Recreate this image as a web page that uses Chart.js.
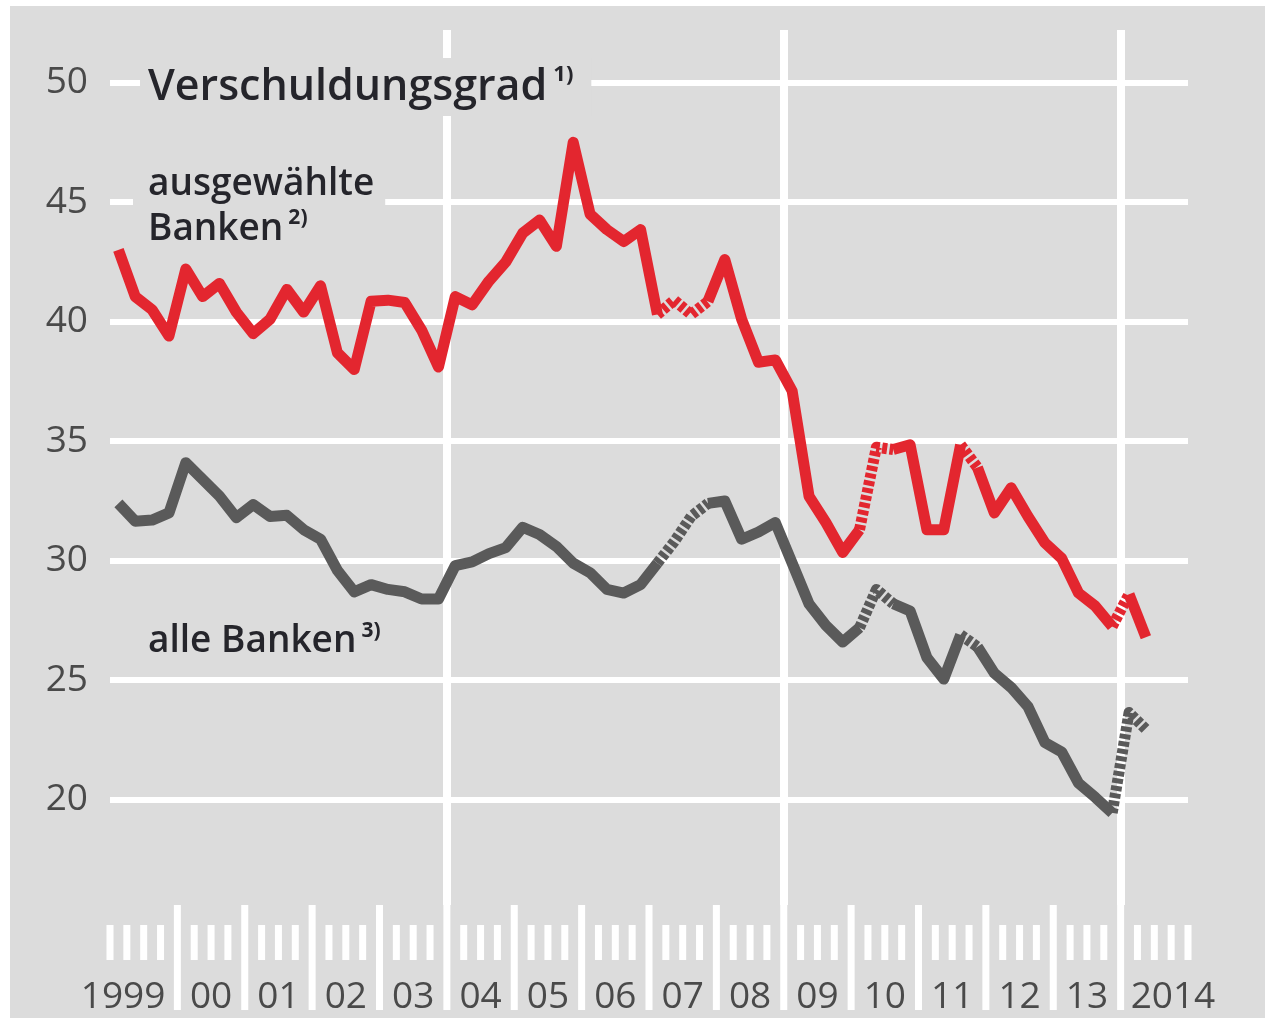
<!DOCTYPE html>
<html>
<head>
<meta charset="utf-8">
<script src="https://cdn.jsdelivr.net/npm/chart.js@4.4.1/dist/chart.umd.min.js"></script>
<style>
  html, body { margin: 0; padding: 0; background: #fff; overflow: hidden; }
  #box { position: relative; width: 1265px; height: 1018px; }
</style>
</head>
<body>
<div id="box"><canvas id="c"></canvas></div>
<script>
/* --- data : quarterly, 1999 Q1 .. 2014 Q2 --- */
const nQuarters  = 64;   // 1999 Q1 .. 2014 Q4 on the axis
const yearLabels = ['1999','00','01','02','03','04','05','06','07','08','09','10','11','12','13','2014'];
const yTicks     = [20, 25, 30, 35, 40, 45, 50];
const gridYears  = [20, 40, 60];   // quarter index of 2004, 2009, 2014

const ausgewaehlte = [
  43.0, 41.05, 40.5, 39.4, 42.2, 41.05, 41.6, 40.4,
  39.5, 40.1, 41.35, 40.4, 41.5, 38.7, 38.0, 40.85,
  40.9, 40.8, 39.65, 38.1, 41.05, 40.7, 41.7, 42.5,
  43.7, 44.25, 43.15, 47.5, 44.5, 43.85, 43.35, 43.85,
  40.3, 40.9, 40.3, 40.85, 42.6, 40.1, 38.3, 38.4,
  37.1, 32.7, 31.6, 30.35, 31.3, 34.75, 34.65, 34.85,
  31.3, 31.3, 34.85, 33.9, 32.0, 33.05, 31.85, 30.75,
  30.1, 28.65, 28.1, 27.25, 28.6, 26.8
];
const alleBanken = [
  32.4, 31.65, 31.7, 32.0, 34.1, 33.4, 32.7, 31.8,
  32.35, 31.85, 31.9, 31.3, 30.9, 29.6, 28.7, 29.0,
  28.8, 28.7, 28.4, 28.4, 29.8, 29.95, 30.3, 30.55,
  31.4, 31.1, 30.6, 29.9, 29.5, 28.8, 28.65, 29.0,
  29.9, 30.8, 31.85, 32.4, 32.5, 30.9, 31.2, 31.6,
  29.9, 28.2, 27.3, 26.6, 27.2, 28.8, 28.2, 27.9,
  25.95, 25.05, 26.9, 26.4, 25.3, 24.7, 23.9, 22.4,
  22.0, 20.7, 20.1, 19.45, 23.65, 22.95
];
// segments (start index) drawn hatched / broken
const redBroken  = [32, 33, 34, 44, 45, 50, 59];
const grayBroken = [32, 33, 34, 44, 45, 50, 59, 60];

/* --- look --- */
const BG    = '#dcdcdc';
const RED   = '#e3262f';
const GRAY  = '#5a5a5a';
const TXT   = '#25252b';
const TICK  = '#4a4a4a';
const FONT  = '"Open Sans", "Noto Sans", sans-serif';

const toPts = arr => arr.map((v, i) => ({ x: i + 0.5, y: v }));
const dashed = list => ({ borderDash: ctx => list.includes(ctx.p0DataIndex) ? [5, 2.5] : undefined });

/* --- background, labels, tick marks --- */
const decor = {
  id: 'decor',
  beforeDraw(chart) {
    const c = chart.ctx;
    c.save();
    c.fillStyle = '#fff';
    c.fillRect(0, 0, chart.width, chart.height);
    c.fillStyle = BG;
    c.fillRect(10, 6, chart.width - 10, chart.height - 6);
    c.restore();
  },
  beforeDatasetsDraw(chart) {
    const c = chart.ctx;
    c.save();
    c.textBaseline = 'alphabetic';
    c.textAlign = 'left';

    // title
    c.font = `600 43px ${FONT}`;
    const wT = c.measureText('Verschuldungsgrad').width;
    c.fillStyle = BG;
    c.fillRect(140, 58, wT + 52, 58);
    c.fillStyle = TXT;
    c.fillText('Verschuldungsgrad', 148, 100);
    c.font = `700 22px ${FONT}`;
    c.fillText('1)', 148 + wT + 6, 81);

    // ausgewählte Banken
    c.font = `600 37px ${FONT}`;
    const wA = c.measureText('ausgewählte').width;
    const wB = c.measureText('Banken').width;
    c.fillStyle = BG;
    c.fillRect(133, 158, wA + 26, 90);
    c.fillStyle = TXT;
    c.fillText('ausgewählte', 148, 195);
    c.fillText('Banken', 148, 240);
    c.font = `700 21px ${FONT}`;
    c.fillText('2)', 148 + wB + 5, 224);

    // alle Banken
    c.font = `600 37px ${FONT}`;
    const wC = c.measureText('alle Banken').width;
    c.fillText('alle Banken', 148, 652);
    c.font = `700 21px ${FONT}`;
    c.fillText('3)', 148 + wC + 5, 637);
    c.restore();
  },
  afterDraw(chart) {
    const c = chart.ctx, xs = chart.scales.x;
    c.save();
    c.fillStyle = '#fff';
    for (let k = 0; k <= nQuarters; k++) {
      const x = xs.getPixelForValue(k);
      const tall = k % 4 === 0 && k > 0 && k < nQuarters;
      if (tall) c.fillRect(x - 3.5, 905, 7, 105);
      else      c.fillRect(x - 3.5, 925, 7, 35);
    }
    c.fillStyle = TICK;
    c.font = `400 37px ${FONT}`;
    c.textBaseline = 'alphabetic';
    yearLabels.forEach((lab, j) => {
      if (j === 0) {
        c.textAlign = 'right';
        c.fillText(lab, xs.getPixelForValue(4) - 12, 1008);
      } else if (j === yearLabels.length - 1) {
        c.textAlign = 'left';
        c.fillText(lab, xs.getPixelForValue(4 * j) + 10, 1008);
      } else {
        c.textAlign = 'center';
        c.fillText(lab, xs.getPixelForValue(4 * j + 2), 1008);
      }
    });
    c.restore();
  }
};

new Chart(document.getElementById('c'), {
  type: 'line',
  data: {
    datasets: [
      { label: 'ausgewählte Banken', data: toPts(ausgewaehlte), borderColor: RED,
        borderWidth: 11, segment: dashed(redBroken) },
      { label: 'alle Banken', data: toPts(alleBanken), borderColor: GRAY,
        borderWidth: 11, segment: dashed(grayBroken) }
    ]
  },
  options: {
    responsive: true,
    maintainAspectRatio: false,
    animation: false,
    layout: { padding: { top: 30, right: 77, left: 0, bottom: 0 } },
    elements: {
      point: { radius: 0 },
      line: { tension: 0, borderJoinStyle: 'round', borderCapStyle: 'butt', fill: false }
    },
    plugins: { legend: { display: false }, tooltip: { enabled: false } },
    scales: {
      x: {
        type: 'linear', min: 0, max: nQuarters,
        afterBuildTicks: s => { s.ticks = gridYears.map(v => ({ value: v })); },
        afterFit: s => { s.height = 113; s.paddingLeft = 0; s.paddingRight = 0; },
        grid: { color: '#fff', lineWidth: 8, drawTicks: false },
        border: { display: false },
        ticks: { display: false }
      },
      y: {
        min: 15.6, max: 52.2,
        afterBuildTicks: s => { s.ticks = yTicks.map(v => ({ value: v })); },
        afterFit: s => { s.width = 110; s.paddingTop = 0; s.paddingBottom = 0; },
        grid: { color: '#fff', lineWidth: 6, drawTicks: false },
        border: { display: false },
        ticks: { color: TICK, padding: 22, font: { family: FONT, size: 37 } }
      }
    }
  },
  plugins: [decor]
});
</script>
</body>
</html>
